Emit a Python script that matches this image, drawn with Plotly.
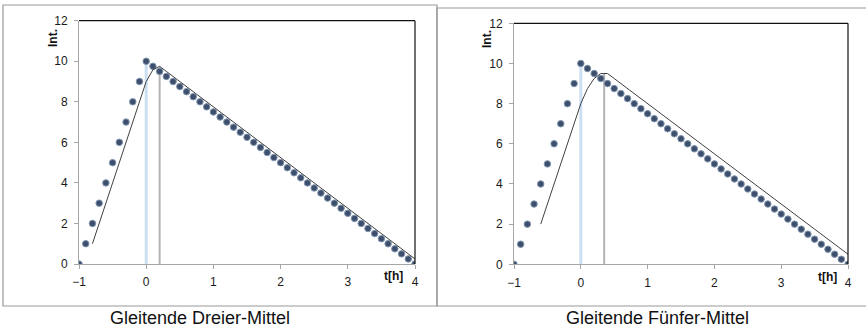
import plotly.graph_objects as go

W, H = 866, 332

# ---- data ----
t = [-1.0, -0.9, -0.8, -0.7, -0.6, -0.5, -0.4, -0.3, -0.2, -0.1, 0.0,
     0.1, 0.2, 0.3, 0.4, 0.5, 0.6, 0.7, 0.8, 0.9, 1.0,
     1.1, 1.2, 1.3, 1.4, 1.5, 1.6, 1.7, 1.8, 1.9, 2.0,
     2.1, 2.2, 2.3, 2.4, 2.5, 2.6, 2.7, 2.8, 2.9, 3.0,
     3.1, 3.2, 3.3, 3.4, 3.5, 3.6, 3.7, 3.8, 3.9, 4.0]
intensity = [0, 1, 2, 3, 4, 5, 6, 7, 8, 9, 10,
             9.75, 9.5, 9.25, 9.0, 8.75, 8.5, 8.25, 8.0, 7.75, 7.5,
             7.25, 7.0, 6.75, 6.5, 6.25, 6.0, 5.75, 5.5, 5.25, 5.0,
             4.75, 4.5, 4.25, 4.0, 3.75, 3.5, 3.25, 3.0, 2.75, 2.5,
             2.25, 2.0, 1.75, 1.5, 1.25, 1.0, 0.75, 0.5, 0.25, 0]

t_ma3 = t[2:]
ma3 = [1, 2, 3, 4, 5, 6, 7, 8, 9, 9.58,
       9.75, 9.5, 9.25, 9.0, 8.75, 8.5, 8.25, 8.0, 7.75, 7.5,
       7.25, 7.0, 6.75, 6.5, 6.25, 6.0, 5.75, 5.5, 5.25, 5.0,
       4.75, 4.5, 4.25, 4.0, 3.75, 3.5, 3.25, 3.0, 2.75, 2.5,
       2.25, 2.0, 1.75, 1.5, 1.25, 1.0, 0.75, 0.5, 0.25]

t_ma5 = t[4:]
ma5 = [2, 3, 4, 5, 6, 7, 8, 8.75, 9.25, 9.5,
       9.5, 9.25, 9.0, 8.75, 8.5, 8.25, 8.0, 7.75, 7.5, 7.25,
       7.0, 6.75, 6.5, 6.25, 6.0, 5.75, 5.5, 5.25, 5.0, 4.75,
       4.5, 4.25, 4.0, 3.75, 3.5, 3.25, 3.0, 2.75, 2.5, 2.25,
       2.0, 1.75, 1.5, 1.25, 1.0, 0.75, 0.5]

orig_peak = (0.0, 10.0)
ma3_peak = (0.2, 9.75)
ma5_peak = (0.35, 9.5)

x_ticks = [-1, 0, 1, 2, 3, 4]
y_ticks = [0, 2, 4, 6, 8, 10, 12]
captions = ["Gleitende Dreier-Mittel", "Gleitende Fünfer-Mittel"]
x_title = "t[h]"
y_title = "Int."

FONT = "Liberation Sans, Arial, sans-serif"
MARKER_COLOR = "#3d4f6c"
MARKER_EDGE = "#8196b0"
LINE_COLOR = "#404040"
BLUE_LINE = "#cddff2"
GRAY_LINE = "#b4b4b4"
AXIS_GRAY = "#a6a6a6"


def px_x(px):
    return px / W


def px_y(py):
    return 1 - py / H


fig = go.Figure()

panels = [
    dict(xa="x", ya="y", xd=(79, 415), yd=(264, 20.7), lt=t_ma3, lv=ma3, pk=ma3_peak),
    dict(xa="x2", ya="y2", xd=(514, 848), yd=(264.3, 23.3), lt=t_ma5, lv=ma5, pk=ma5_peak),
]

for p in panels:
    fig.add_trace(go.Scatter(x=[orig_peak[0], orig_peak[0]], y=[0, orig_peak[1]],
                             mode="lines", line=dict(color=BLUE_LINE, width=3),
                             xaxis=p["xa"], yaxis=p["ya"], hoverinfo="skip"))
    fig.add_trace(go.Scatter(x=[p["pk"][0], p["pk"][0]], y=[0, p["pk"][1]],
                             mode="lines", line=dict(color=GRAY_LINE, width=2),
                             xaxis=p["xa"], yaxis=p["ya"], hoverinfo="skip"))
    fig.add_trace(go.Scatter(x=t, y=intensity, mode="markers",
                             marker=dict(color=MARKER_COLOR, size=6.5,
                                         line=dict(color=MARKER_EDGE, width=1)),
                             xaxis=p["xa"], yaxis=p["ya"]))
    fig.add_trace(go.Scatter(x=p["lt"], y=p["lv"], mode="lines",
                             line=dict(color=LINE_COLOR, width=1),
                             xaxis=p["xa"], yaxis=p["ya"]))

axis_common_x = dict(range=[-1, 4], tickvals=x_ticks, showgrid=False, zeroline=False,
                     showline=True, linecolor=AXIS_GRAY, linewidth=1,
                     ticks="outside", ticklen=4, tickcolor=AXIS_GRAY,
                     ticklabelstandoff=3,
                     tickfont=dict(family=FONT, size=12, color="#1a1a1a"))
axis_common_y = dict(range=[0, 12], tickvals=y_ticks, showgrid=False, zeroline=False,
                     showline=True, linecolor=AXIS_GRAY, linewidth=1,
                     ticks="outside", ticklen=4, tickcolor=AXIS_GRAY,
                     ticklabelstandoff=4,
                     tickfont=dict(family=FONT, size=12, color="#1a1a1a"))

layout = dict(
    width=W, height=H,
    margin=dict(l=0, r=0, t=0, b=0, autoexpand=False),
    paper_bgcolor="white", plot_bgcolor="white",
    showlegend=False,
)
for i, p in enumerate(panels):
    sx = "" if i == 0 else "2"
    layout["xaxis" + sx] = dict(axis_common_x, domain=[px_x(p["xd"][0]), px_x(p["xd"][1])],
                                anchor="y" + sx)
    layout["yaxis" + sx] = dict(axis_common_y, domain=[px_y(p["yd"][0]), px_y(p["yd"][1])],
                                anchor="x" + sx)
fig.update_layout(**layout)

shapes = []
shapes.append(dict(type="rect", xref="paper", yref="paper",
                   x0=px_x(3), x1=px_x(437), y0=px_y(306), y1=px_y(5),
                   line=dict(color="#999999", width=1.2)))
shapes.append(dict(type="rect", xref="paper", yref="paper",
                   x0=px_x(437), x1=px_x(870), y0=px_y(306), y1=px_y(8),
                   line=dict(color="#999999", width=1.2)))
for i, p in enumerate(panels):
    sx = "" if i == 0 else "2"
    shapes.append(dict(type="line", xref="x" + sx + " domain", yref="y" + sx + " domain",
                       x0=0, x1=1, y0=1, y1=1, line=dict(color="#111111", width=1.2)))
    shapes.append(dict(type="line", xref="x" + sx + " domain", yref="y" + sx + " domain",
                       x0=1, x1=1, y0=0, y1=1, line=dict(color="#111111", width=1.2)))
fig.update_layout(shapes=shapes)

annotations = []
for (ix, iy), (tx, ty), (cx, cy), cap in zip(
        [(53, 38), (487, 39)], [(393, 276), (827, 277)], [(200, 318), (657, 318)], captions):
    annotations.append(dict(text="<b>" + y_title + "</b>", xref="paper", yref="paper",
                            x=px_x(ix), y=px_y(iy), showarrow=False, textangle=-90,
                            xanchor="center", yanchor="middle",
                            font=dict(family=FONT, size=12, color="#111111")))
    annotations.append(dict(text="<b>" + x_title + "</b>", xref="paper", yref="paper",
                            x=px_x(tx), y=px_y(ty), showarrow=False,
                            xanchor="center", yanchor="middle",
                            font=dict(family=FONT, size=12, color="#111111")))
    annotations.append(dict(text=cap, xref="paper", yref="paper",
                            x=px_x(cx), y=px_y(cy), showarrow=False,
                            xanchor="center", yanchor="middle",
                            font=dict(family=FONT, size=18, color="#111111")))
fig.update_layout(annotations=annotations)

fig.write_html("out.html", config={"displayModeBar": False},
               post_script="document.body.style.margin='0';")
